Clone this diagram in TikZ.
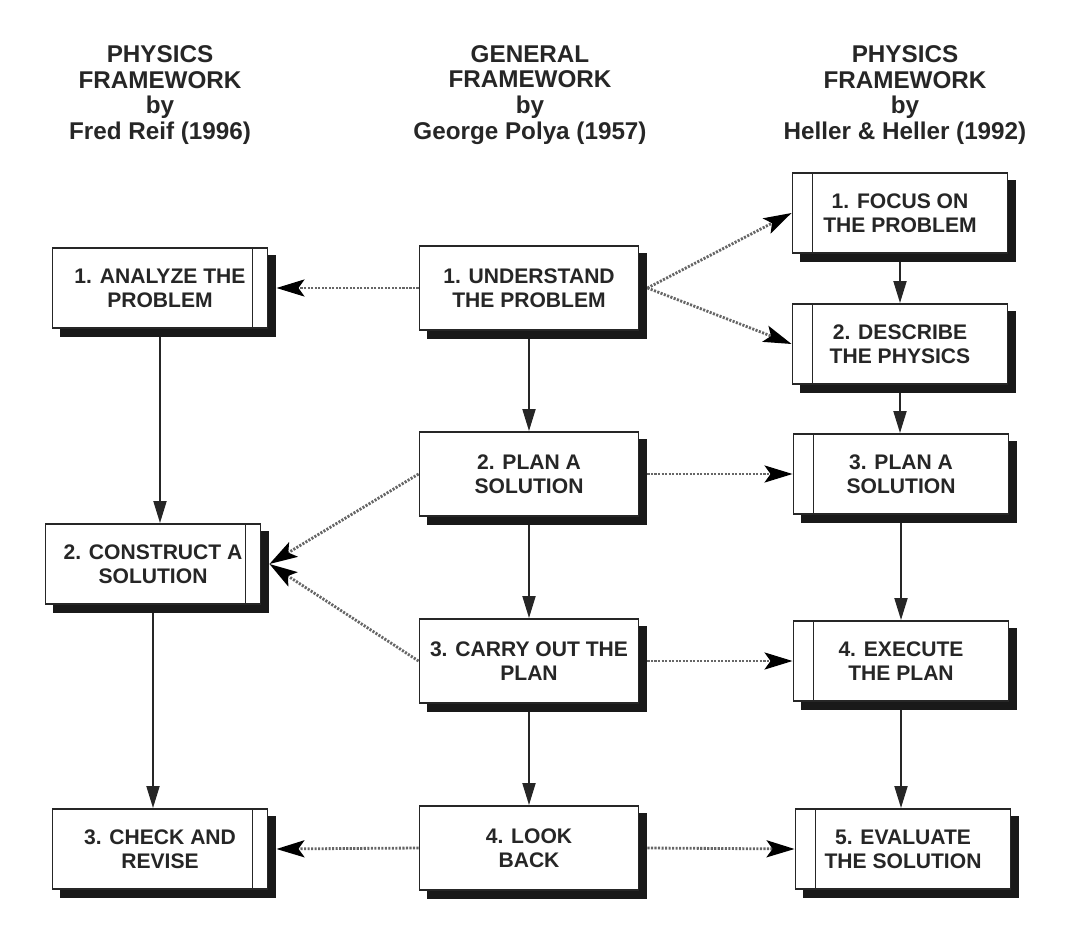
\documentclass[tikz,border=0pt]{standalone}
\usepackage{fontspec}
\setmainfont{Liberation Sans}
\usetikzlibrary{positioning,arrows.meta}
\pgfdeclarelayer{background}
\pgfsetlayers{background,main}
\newcommand{\boxfont}{\fontsize{12}{13.6}\selectfont\bfseries}
\newcommand{\headfont}{\fontsize{13.8}{14.7}\selectfont\bfseries}

\begin{document}
\begin{tikzpicture}[
    x=0.02cm, y=-0.02cm,
    stepbox/.style={
        rectangle, draw=black!85, fill=white, line width=1.1pt,
        minimum width=4.3cm, minimum height=1.6cm, align=center,
        text=black!85, font=\boxfont
      },
    reifbox/.style={
        stepbox, path picture={\draw[line width=1.1pt, black!85]
          ([xshift=-0.3cm]path picture bounding box.north east) --
          ([xshift=-0.3cm]path picture bounding box.south east);}
      },
    polyabox/.style={
        stepbox, minimum width=4.38cm, minimum height=1.68cm
      },
    hellerbox/.style={
        stepbox, path picture={\draw[line width=1.1pt, black!85]
          ([xshift=0.4cm]path picture bounding box.north west) --
          ([xshift=0.4cm]path picture bounding box.south west);}
      },
    shadowfill/.style={
        fill=black!90
      },
    headnode/.style={
        align=center, font=\headfont, text=black!85
      },
    solidarr/.style={
        -{Triangle[length=0.44cm, width=0.26cm]}, line width=1.1pt, draw=black!85
      },
    dotarr/.style={
        -{Stealth[length=0.56cm, width=0.34cm, inset=0.12cm, color=black]},
        line width=1.6pt, draw=black!60, dash pattern=on 1.2pt off 0.8pt
      },
  ]
  \useasboundingbox (0,0) rectangle (1078,942);

  % column headings
  \node[headnode](hreif) at (160,95) {PHYSICS\\FRAMEWORK\\by\\Fred Reif (1996)};
  \node[headnode](hpolya) at (530,95) {GENERAL\\FRAMEWORK\\by\\George Polya (1957)};
  \node[headnode](hheller) at (905,95) {PHYSICS\\FRAMEWORK\\by\\Heller \& Heller (1992)};

  % Reif
  \node[reifbox](ana) at (160,288) {1. ANALYZE THE\\PROBLEM};
  \node[reifbox](con) at (153,564) {2. CONSTRUCT A\\SOLUTION};
  \node[reifbox](chk) at (160,849) {3. CHECK AND\\REVISE};

  % Polya
  \node[polyabox](und) at (529,288) {1. UNDERSTAND\\THE PROBLEM};
  \node[polyabox](pln) at (529,474) {2. PLAN A\\SOLUTION};
  \node[polyabox](car) at (529,661) {3. CARRY OUT THE\\PLAN};
  \node[polyabox](back) at (529,848) {4. LOOK\\BACK};

  % Heller
  \node[hellerbox](foc) at (900,213) {1. FOCUS ON\\THE PROBLEM};
  \node[hellerbox](des) at (900,344) {2. DESCRIBE\\THE PHYSICS};
  \node[hellerbox](pl2) at (901,474) {3. PLAN A\\SOLUTION};
  \node[hellerbox](exe) at (901,661) {4. EXECUTE\\THE PLAN};
  \node[hellerbox](eva) at (903,849) {5. EVALUATE\\THE SOLUTION};

  % drop shadows
  \begin{pgfonlayer}{background}
    \foreach \n in {ana,con,chk,und,pln,car,back,foc,des,pl2,exe,eva}
      \fill[shadowfill] ([shift={(0.16cm,-0.16cm)}]\n.south west)
        rectangle ([shift={(0.16cm,-0.16cm)}]\n.north east);
  \end{pgfonlayer}

  \draw[solidarr] ([yshift=-0.16cm]ana.south) -- (ana.south |- con.north);
  \draw[solidarr] ([yshift=-0.16cm]con.south) -- (con.south |- chk.north);
  \draw[solidarr] ([yshift=-0.16cm]und.south) -- (pln.north);
  \draw[solidarr] ([yshift=-0.16cm]pln.south) -- (car.north);
  \draw[solidarr] ([yshift=-0.16cm]car.south) -- (back.north);
  \draw[solidarr] ([yshift=-0.16cm]foc.south) -- (des.north);
  \draw[solidarr] ([yshift=-0.16cm]des.south) -- (des.south |- pl2.north);
  \draw[solidarr] ([yshift=-0.16cm]pl2.south) -- (exe.north);
  \draw[solidarr] ([yshift=-0.16cm]exe.south) -- (exe.south |- eva.north);

  \path[every edge/.style={dotarr}]
    (und.west) edge ([xshift=0.16cm]ana.east)
    ([xshift=0.16cm]und.east) edge (foc.west)
    ([xshift=0.16cm]und.east) edge (des.west)
    (pln.west) edge ([xshift=0.16cm]con.east)
    (car.west) edge ([xshift=0.16cm]con.east)
    ([xshift=0.16cm]pln.east) edge (pl2.west)
    ([xshift=0.16cm]car.east) edge (exe.west)
    (back.west) edge ([xshift=0.16cm]chk.east)
    ([xshift=0.16cm]back.east) edge (eva.west)
  ;
\end{tikzpicture}
\end{document}
